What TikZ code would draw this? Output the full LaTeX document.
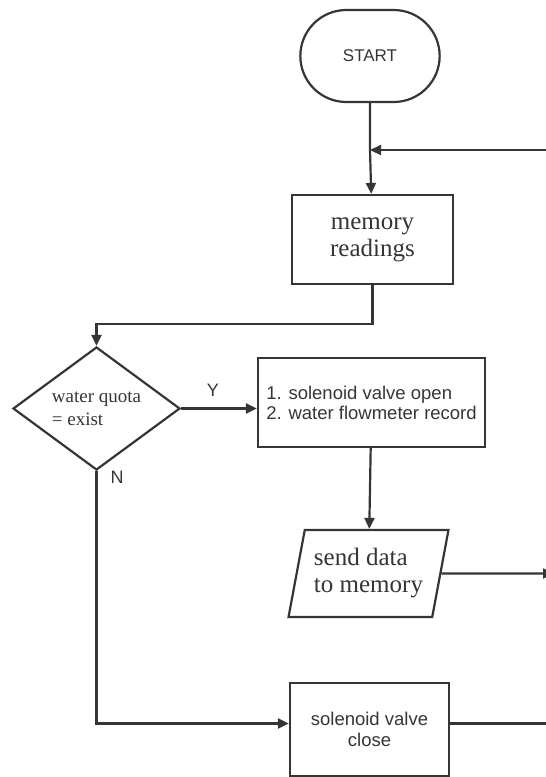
\documentclass[tikz,border=0pt]{standalone}
\usepackage{fontspec}
\setmainfont{Liberation Serif}
\setsansfont{Liberation Sans}
\usepackage{xcolor}
\usetikzlibrary{arrows.meta,positioning,shapes.geometric,shapes.misc}
\definecolor{ink}{HTML}{353535}

\begin{document}
\begin{tikzpicture}[
    x=1pt, y=-1pt,
    terminal/.style={rounded rectangle, draw=ink, line width=2.2pt, minimum width=146pt,
                     minimum height=92pt, text=ink, font=\sffamily\fontsize{17}{20}\selectfont},
    process/.style={rectangle, draw=ink, line width=2.2pt, text=ink},
    decision/.style={diamond, draw=ink, line width=2.2pt, inner sep=0pt, minimum width=167pt,
                     minimum height=81pt, align=left, text=ink,
                     font=\fontsize{19}{23}\selectfont},
    io/.style={trapezium, trapezium left angle=75, trapezium right angle=105,
               trapezium stretches=true, draw=ink, line width=2.2pt, inner sep=2pt,
               minimum width=160pt, minimum height=87pt, align=left, text=ink,
               font=\fontsize{25}{27}\selectfont},
    arrow/.style={-{Triangle[length=11pt,width=10pt]}, draw=ink, line width=2.2pt},
    line/.style={draw=ink, line width=2.2pt},
    yesno/.style={text=ink, font=\sffamily\fontsize{18}{20}\selectfont}
]
\useasboundingbox (0,0) rectangle (546,777);

% Start and reading
\node[terminal] (start) at (370,56) {START};
\coordinate (join) at (370,150);
\node[process, minimum width=161pt, minimum height=89pt, align=center,
      font=\fontsize{25}{27}\selectfont] (mem) at (372.5,239.5) {memory\\readings};

% Quota check
\node[decision] (dec) at (96.5,408.5) {water quota\\= exist};
\node[process, minimum width=227pt, minimum height=89pt, align=left,
      font=\sffamily\fontsize{18.5}{20}\selectfont] (open) at (371.5,402.5)
      {1. solenoid valve open\\2. water flowmeter record};
\node[io] (send) at (368.5,573.5) {send data\\to memory};
\node[process, minimum width=159pt, minimum height=93pt, align=center,
      font=\sffamily\fontsize{18.5}{21}\selectfont] (close) at (369.5,729.5)
      {solenoid valve\\close};

% Loose ends running off to the right
\coordinate (back) at (550,150);
\coordinate (out) at (554,573.5);
\coordinate (closeout) at (550,723.5);

% Branch labels
\node[yesno] (yes) at (213,390) {Y};
\node[yesno] (no) at (117,477) {N};

% Arrows
\draw[line] (start) -- (join);
\draw[arrow] (join) -- (mem);
\draw[arrow] (back) -- (join);
\draw[arrow] (mem.south) -- ++(0,38.5) -| (dec.north);
\draw[arrow] (dec.east) -- (dec.east -| open.west);
\draw[arrow] (open) -- (send);
\draw[arrow] (send.east) -- (out);
\draw[arrow] (dec.south) |- ([yshift=6pt]close.west);
\draw[line] ([yshift=6pt]close.east) -- (closeout);

\end{tikzpicture}
\end{document}
